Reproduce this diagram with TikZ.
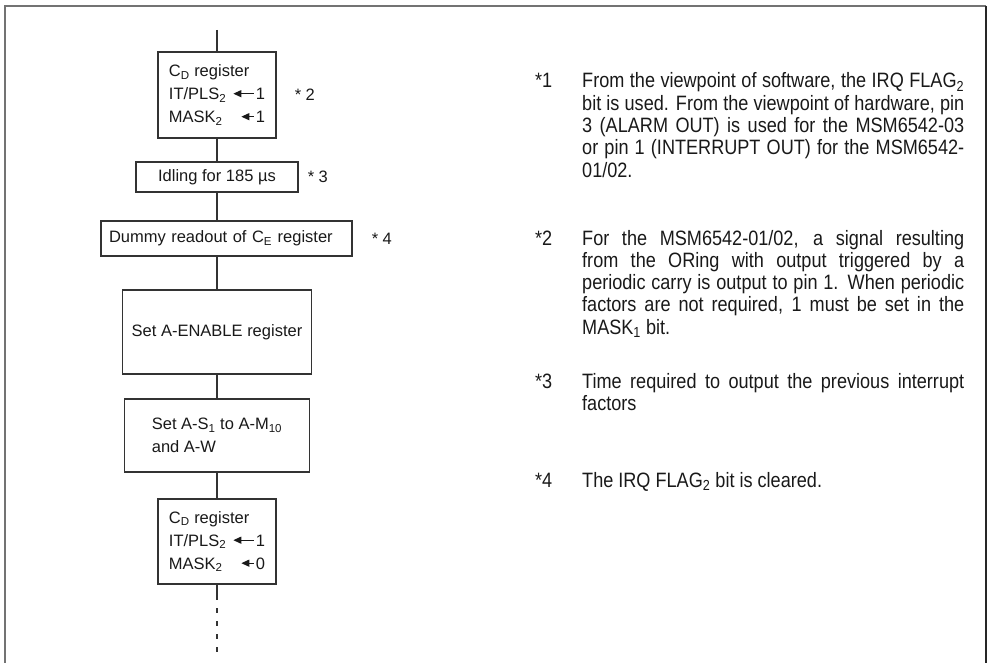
\documentclass[tikz,border=0pt]{standalone}
\usepackage{fontspec}
\setmainfont{Liberation Sans}
\newfontfamily\notefont{Liberation Sans}[FakeStretch=0.87]
\usetikzlibrary{positioning,arrows.meta}

\newcommand{\setarrow}[1]{\tikz[baseline=-6pt]\draw[line width=1.2pt,{Triangle[length=8pt,width=7pt]}-] (0pt,0pt) -- (#1pt,0pt);}
\newcommand{\regline}[3]{\makebox[86pt][l]{#1\hfill\setarrow{#2}}\kern1pt#3}
\newcommand{\fullline}[1]{\makebox[382pt][s]{#1}}

\begin{document}
\begin{tikzpicture}[x=1pt, y=-1pt,
  stepbox/.style={draw=black!80, line width=1.1pt, inner sep=0pt, align=left,
                  font=\fontsize{16.5}{23}\selectfont, text=black!90},
  starlabel/.style={inner sep=0pt, font=\fontsize{16.5}{20}\selectfont, text=black!90},
  note/.style={anchor=base west, inner sep=0pt, align=left,
               font=\notefont\fontsize{20.8}{22.3}\selectfont, text=black!90},
  flow/.style={draw=black!80, line width=1.1pt},
]
\useasboundingbox (0,0) rectangle (987,663);
\draw[black!55, line width=2.5pt] (5,663) -- (5,6) -- (986,6);
\draw[black!85, line width=2pt] (986,6) -- (986,663);

\node[stepbox, minimum width=118pt, minimum height=86pt] (cd1) at (217,95)
  {C\textsubscript{D} register\\ \regline{IT/PLS\textsubscript{2}}{21}{1}\\ \regline{MASK\textsubscript{2}}{13}{1}};
\node[stepbox, minimum width=162pt, minimum height=30pt] (idle) at (217,177) {Idling for 185 µs};
\node[stepbox, text width=235pt, inner xsep=8pt, minimum height=35pt] (dummy) at (226.5,238.5)
  {Dummy readout of C\textsubscript{E} register};
\node[stepbox, minimum width=189pt, minimum height=84pt] (enable) at (217,332) {Set A-ENABLE register};
\node[stepbox, minimum width=185pt, minimum height=73pt] (setw) at (217,435.5)
  {Set A-S\textsubscript{1} to A-M\textsubscript{10}\\and A-W};
\node[stepbox, minimum width=118pt, minimum height=85pt] (cd2) at (217,541.5)
  {C\textsubscript{D} register\\ \regline{IT/PLS\textsubscript{2}}{21}{1}\\ \regline{MASK\textsubscript{2}}{13}{0}};

\coordinate (start) at (217,30);
\coordinate (cont)  at (217,595);
\coordinate (stop)  at (217,652);

\draw[flow] (start) -- (cd1) -- (idle);
\draw[flow] (idle) -- (idle |- dummy.north);
\draw[flow] (idle |- dummy.south) -- (enable) -- (setw) -- (cd2) -- (cont);
\draw[flow, dash pattern=on 5pt off 8pt] (cont) -- (stop);

\node[starlabel, right=18pt of cd1] (s2) {* 2};
\node[starlabel, right=9pt of idle] (s3) {* 3};
\node[starlabel, right=19pt of dummy] (s4) {* 4};

% notes: anchored on the baseline of their last line
\node[note] (n1) at (535,88) {*1};
\node[note] (t1) at (582,177.2)
  {\fullline{From the viewpoint of software, the IRQ FLAG\textsubscript{2}}\\
   \fullline{bit is used.  From the viewpoint of hardware, pin}\\
   \fullline{3 (ALARM OUT) is used for the MSM6542-03}\\
   \fullline{or pin 1 (INTERRUPT OUT) for the MSM6542-}\\
   01/02.};
\node[note] (n2) at (535,245) {*2};
\node[note] (t2) at (582,334.2)
  {\fullline{For the MSM6542-01/02, a signal resulting}\\
   \fullline{from the ORing with output triggered by a}\\
   \fullline{periodic carry is output to pin 1.  When periodic}\\
   \fullline{factors are not required, 1 must be set in the}\\
   MASK\textsubscript{1} bit.};
\node[note] (n3) at (535,388) {*3};
\node[note] (t3) at (582,410.3)
  {\fullline{Time required to output the previous interrupt}\\
   factors};
\node[note] (n4) at (535,487) {*4};
\node[note] (t4) at (582,487) {The IRQ FLAG\textsubscript{2} bit is cleared.};
\end{tikzpicture}
\end{document}
